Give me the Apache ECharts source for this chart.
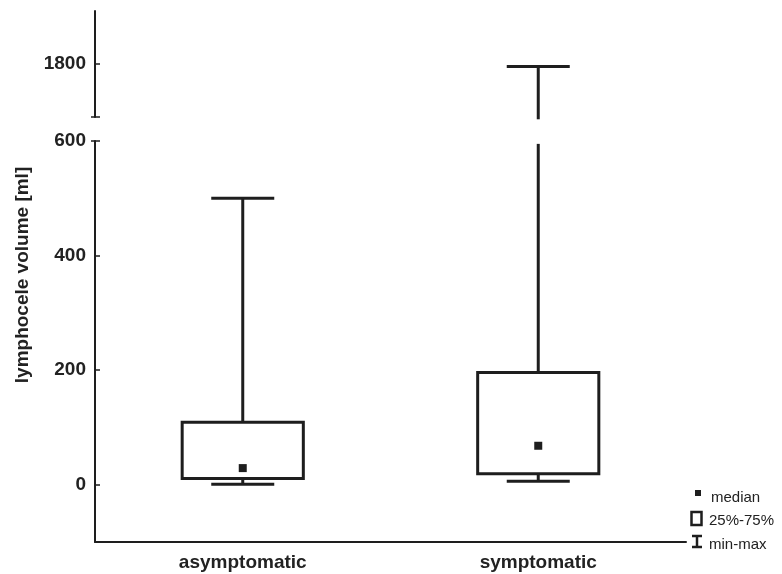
<!DOCTYPE html>
<html>
<head>
<meta charset="utf-8">
<script src="https://cdn.jsdelivr.net/npm/echarts@6/dist/echarts.min.js"></script>
<style>
html,body{margin:0;padding:0;background:#fff;}
#chart{width:782px;height:574px;}
</style>
</head>
<body>
<div id="chart"></div>
<script>
// ---- data ----
var categories = ['asymptomatic', 'symptomatic'];
var minVals    = [1, 6];
var q1Vals     = [11, 19];
var medianVals = [29, 68];
var q3Vals     = [109, 196];
var maxVals    = [500, 1795];

// axis ranges (broken axis)
var lowerMin = -100, lowerMax = 600;
var upperMin = 1707, upperMax = 1892;
var lowerTicks = [0, 200, 400, 600];
var upperTicks = [1800];
// where the whisker is cut at the break
var breakLowValue = 595;
var breakHighValue = 1703;

var legendLabels = ['median', '25%-75%', 'min-max'];

var INK = '#1e1e1e';
var FONT = 'Liberation Sans, Arial, sans-serif';

var rows = categories.map(function (c, i) {
  return [i, minVals[i], q1Vals[i], medianVals[i], q3Vals[i], maxVals[i]];
});

function boxGeom(api) {
  var band = api.size([1, 0])[0];
  var boxW = band * 0.41;
  return { boxW: boxW, capW: boxW * 0.52 };
}

function renderLower(params, api) {
  var i = api.value(0);
  var mn = api.value(1), q1 = api.value(2), md = api.value(3), q3 = api.value(4), mx = api.value(5);
  var g = boxGeom(api);
  var cx = api.coord([i, q1])[0];
  var yMin = api.coord([i, mn])[1];
  var yQ1 = api.coord([i, q1])[1];
  var yMd = api.coord([i, md])[1];
  var yQ3 = api.coord([i, q3])[1];
  var broken = mx > lowerMax;
  var yMaxVis = api.coord([i, broken ? breakLowValue : mx])[1];
  var st = { stroke: INK, lineWidth: 3, fill: null };
  var children = [
    { type: 'line', shape: { x1: cx, y1: yMaxVis, x2: cx, y2: yQ3 }, style: st },
    { type: 'line', shape: { x1: cx, y1: yQ1, x2: cx, y2: yMin }, style: st },
    { type: 'line', shape: { x1: cx - g.capW / 2, y1: yMin, x2: cx + g.capW / 2, y2: yMin }, style: st },
    { type: 'rect', shape: { x: cx - g.boxW / 2, y: yQ3, width: g.boxW, height: yQ1 - yQ3 }, style: { stroke: INK, lineWidth: 3, fill: '#fff' } },
    { type: 'rect', shape: { x: cx - 4, y: yMd - 4, width: 8, height: 8 }, style: { fill: INK } }
  ];
  if (!broken) {
    children.push({ type: 'line', shape: { x1: cx - g.capW / 2, y1: yMaxVis, x2: cx + g.capW / 2, y2: yMaxVis }, style: st });
  }
  return { type: 'group', children: children };
}

function renderUpper(params, api) {
  var i = api.value(0);
  var mx = api.value(5);
  if (mx <= lowerMax) return null;
  var g = boxGeom(api);
  var p = api.coord([i, mx]);
  var yEnd = api.coord([i, breakHighValue])[1];
  var st = { stroke: INK, lineWidth: 3, fill: null };
  return {
    type: 'group',
    children: [
      { type: 'line', shape: { x1: p[0], y1: p[1], x2: p[0], y2: yEnd }, style: st },
      { type: 'line', shape: { x1: p[0] - g.capW / 2, y1: p[1], x2: p[0] + g.capW / 2, y2: p[1] }, style: st }
    ]
  };
}

var chart = echarts.init(document.getElementById('chart'), null, { renderer: 'canvas' });

var axisLabelStyle = { color: '#222', fontFamily: FONT, fontWeight: 'bold', fontSize: 19 };
function plainNum(v) { return String(v); }

var option = {
  backgroundColor: '#fff',
  animation: false,
  grid: [
    { left: 95, right: 96, top: 141, bottom: 32 },
    { left: 95, right: 96, top: 11, height: 106 }
  ],
  xAxis: [
    {
      type: 'category', gridIndex: 0, data: categories, boundaryGap: true, position: 'bottom',
      axisLine: { onZero: false, lineStyle: { color: INK, width: 2 } },
      axisTick: { inside: true, length: 3, alignWithLabel: true, lineStyle: { color: INK, width: 1.5 } },
      axisLabel: Object.assign({ margin: 11 }, axisLabelStyle),
      splitLine: { show: false }
    },
    { type: 'category', gridIndex: 1, data: categories, boundaryGap: true, show: false }
  ],
  yAxis: [
    {
      type: 'value', gridIndex: 0, min: lowerMin, max: lowerMax, position: 'left',
      axisLine: { show: true, onZero: false, lineStyle: { color: INK, width: 2 } },
      axisTick: { show: true, inside: true, length: 5, customValues: lowerTicks, lineStyle: { color: INK, width: 1.5 } },
      axisLabel: Object.assign({ margin: 9, customValues: lowerTicks, formatter: plainNum }, axisLabelStyle),
      splitLine: { show: false }
    },
    {
      type: 'value', gridIndex: 1, min: upperMin, max: upperMax, position: 'left',
      axisLine: { show: true, onZero: false, lineStyle: { color: INK, width: 2 } },
      axisTick: { show: true, inside: true, length: 5, customValues: upperTicks, lineStyle: { color: INK, width: 1.5 } },
      axisLabel: Object.assign({ margin: 9, customValues: upperTicks, formatter: plainNum }, axisLabelStyle),
      splitLine: { show: false }
    },
    // break caps (outer half of the tick at the break)
    {
      type: 'value', gridIndex: 0, min: lowerMin, max: lowerMax, position: 'left', offset: 0,
      axisLine: { show: false, onZero: false },
      axisTick: { show: true, inside: false, length: 4, customValues: [lowerMax], lineStyle: { color: INK, width: 1.5 } },
      axisLabel: { show: false }, splitLine: { show: false }
    },
    {
      type: 'value', gridIndex: 1, min: upperMin, max: upperMax, position: 'left', offset: 0,
      axisLine: { show: false, onZero: false },
      axisTick: { show: true, inside: false, length: 4, customValues: [upperMin], lineStyle: { color: INK, width: 1.5 } },
      axisLabel: { show: false }, splitLine: { show: false }
    },
    {
      type: 'value', gridIndex: 1, min: upperMin, max: upperMax, position: 'left', offset: 0,
      axisLine: { show: false, onZero: false },
      axisTick: { show: true, inside: true, length: 5, customValues: [upperMin], lineStyle: { color: INK, width: 1.5 } },
      axisLabel: { show: false }, splitLine: { show: false }
    }
  ],
  series: [
    { type: 'custom', name: 'lower', xAxisIndex: 0, yAxisIndex: 0, data: rows, renderItem: renderLower, clip: false, z: 5 },
    { type: 'custom', name: 'upper', xAxisIndex: 1, yAxisIndex: 1, data: rows, renderItem: renderUpper, clip: false, z: 5 }
  ],
  graphic: [
    {
      type: 'text', x: 23, y: 275, rotation: Math.PI / 2,
      style: { text: 'lymphocele volume [ml]', fill: '#222', font: 'bold 19px ' + FONT, textAlign: 'center', textVerticalAlign: 'middle' }
    },
    // legend
    { type: 'rect', shape: { x: 695, y: 490, width: 6, height: 6 }, style: { fill: INK } },
    { type: 'text', x: 711, y: 498, style: { text: legendLabels[0], fill: '#222', font: '15px ' + FONT, textVerticalAlign: 'middle' } },
    { type: 'rect', shape: { x: 691.5, y: 512, width: 10, height: 13 }, style: { fill: null, stroke: INK, lineWidth: 2.5 } },
    { type: 'text', x: 709, y: 521, style: { text: legendLabels[1], fill: '#222', font: '15px ' + FONT, textVerticalAlign: 'middle' } },
    { type: 'line', shape: { x1: 692, y1: 536, x2: 702, y2: 536 }, style: { stroke: INK, lineWidth: 2.5 } },
    { type: 'line', shape: { x1: 697, y1: 536, x2: 697, y2: 547 }, style: { stroke: INK, lineWidth: 2.5 } },
    { type: 'line', shape: { x1: 692, y1: 547, x2: 702, y2: 547 }, style: { stroke: INK, lineWidth: 2.5 } },
    { type: 'text', x: 709, y: 545, style: { text: legendLabels[2], fill: '#222', font: '15px ' + FONT, textVerticalAlign: 'middle' } }
  ]
};

chart.setOption(option);
</script>
</body>
</html>
